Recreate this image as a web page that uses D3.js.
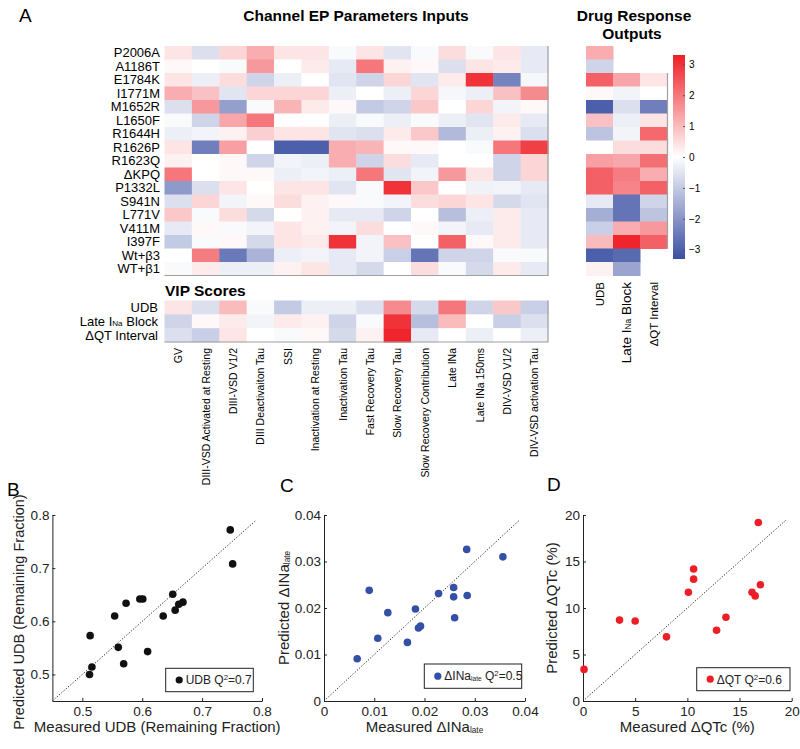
<!DOCTYPE html>
<html>
<head>
<meta charset="utf-8">
<script src="https://cdn.jsdelivr.net/npm/d3@7"></script>
<style>
  body { margin: 0; background: #fff; }
  svg { display: block; font-family: "Liberation Sans", Arial, sans-serif; }
</style>
</head>
<body>
<svg id="fig" width="800" height="749"></svg>
<script>
// ---- data ----
const mutants = ["P2006A", "A1186T", "E1784K", "I1771M", "M1652R", "L1650F", "R1644H", "R1626P",
  "R1623Q", "ΔKPQ", "P1332L", "S941N", "L771V", "V411M", "I397F", "Wt+β3", "WT+β1"];

const params = ["GV", "DIII-VSD Activated at Resting", "DIII-VSD V1/2", "DIII Deactivaiton Tau", "SSI",
  "Inactivation at Resting", "Inactivation Tau", "Fast Recovery Tau", "Slow Recovery Tau",
  "Slow Recovery Contribution", "Late INa", "Late INa 150ms", "DIV-VSD V1/2", "DIV-VSD activation Tau"];

// z-scored channel parameters, one row per mutant
const epValues = [
  [0.4, -0.6, 0.6, 1.2, 0.4, 0.4, -0.1, 0.4, -0.5, -0.1, 0.5, -0.1, 0.4, -0.4],
  [0.1, 0, -0.1, 1.5, 0, 0.3, -0.4, 2.0, 0.2, 0.1, -0.6, 0.4, 0.3, -0.4],
  [0.4, -0.3, 0.5, -0.8, -0.3, 0, -0.5, -0.8, 0.6, -0.5, 0.3, 3.0, -2.3, -0.15],
  [1.2, 0.9, -0.5, 0.6, 0.6, 0.6, -0.3, 0, -0.3, 0.6, -0.15, -0.3, 0.9, 1.7],
  [-0.6, 1.5, -1.8, -0.1, 1.1, 0.3, 0.1, -1.0, -0.8, 0.8, 0, 0.6, -0.2, 0.1],
  [-0.1, -0.8, 1.3, 2.0, 0, 0, -0.3, -0.1, -0.3, -0.1, -0.3, -0.5, 0.3, -0.4],
  [-0.3, -0.2, 0.2, 0.7, 0.4, 0.4, -0.5, -0.6, 0.3, 0.8, -1.3, -0.3, 0.2, -0.6],
  [0.4, -2.4, 1.4, 0, -3.0, -3.0, 1.2, 1.1, 0.1, 0.1, 0, -0.1, 2.0, 2.8],
  [0.2, 0, 0.1, -0.8, -0.2, -0.3, 1.2, -0.8, 0.5, -0.4, 0, 0, -0.8, 0.6],
  [2.0, 0, 0.1, 0.1, -0.3, -0.2, -0.3, 2.0, -0.5, -0.2, 1.5, 0.4, -0.8, 0.6],
  [-1.9, -0.6, 0.4, 0, 0.4, 0.4, -0.5, -0.1, 3.0, 0.8, 0, -0.25, -0.2, -0.4],
  [-0.6, 0.6, -0.2, 0.1, 0.5, 0.2, 0.1, -0.1, -0.2, 0.5, 0.6, 0.4, -0.7, -0.5],
  [0.8, -0.1, 0.5, -0.7, 0, 0.2, -0.4, -0.4, -0.8, 0, -1.2, -0.3, 0.3, -0.4],
  [-0.4, 0.1, -0.1, -0.2, 0.4, 0.2, -0.2, 0.5, 0, 0.1, -0.2, -0.4, 0.3, -0.4],
  [-1.0, -0.1, 0.1, -0.7, 0.4, 0.3, 3.0, -0.2, 0.9, 0, 2.3, 0.1, 0.3, -0.4],
  [0, 1.9, -2.5, -1.4, -0.3, -0.2, -0.4, -0.2, -0.9, -2.6, -0.8, -0.8, -0.1, -0.1],
  [-0.1, 0.3, -0.3, -0.3, 0.2, 0.4, -0.4, -0.7, 0, 0.5, -0.1, -0.7, 0.3, -0.4]
];

const outputs = ["UDB", "Late INa Block", "ΔQT Interval"];
const vipValues = [
  [0.4, -0.6, 1.0, -0.1, -1.0, -0.3, -0.3, -0.6, 1.7, -0.7, 2.0, -0.8, 0.8, -0.9],
  [-0.8, 0.1, 0.3, -0.2, 0.3, 0.2, -0.8, -0.1, 3.0, -1.2, 1.0, 0, -0.9, -0.6],
  [-0.6, -0.9, 0.4, 0, -0.1, 0.1, -0.7, 0.2, 3.2, -0.4, 0, -0.3, 0, -0.3]
];

// drug responses (UDB for all 17, late INa block from E1784K on, dQT from E1784K to I397F)
const udbResp = [1.2, -0.8, 2.3, 0.1, -3.0, 0.9, -1.1, 0, 1.4, 2.3, 2.3, -0.4, -1.5, -0.9, 1.0, -3.0, 0.2];
const lateResp = [1.3, -0.2, -0.6, -0.3, -0.2, 0.5, 1.3, 1.9, 1.8, -2.6, -2.6, 1.2, 3.2, -2.8, -1.7];
const qtResp = [0.4, 0, -2.4, 0.4, 2.2, 0.5, 2.1, 1.2, 2.3, -0.8, -1.1, 1.5, 2.3];
const colorbarTicks = [-3, -2, -1, 0, 1, 2, 3];

// scatter panels: measured vs predicted
const udbMeasured = [0.747, 0.751, 0.651, 0.596, 0.601, 0.573, 0.554, 0.668, 0.661, 0.655, 0.635, 0.513, 0.560, 0.609, 0.516, 0.569, 0.512];
const udbPredicted = [0.772, 0.708, 0.651, 0.642, 0.642, 0.634, 0.610, 0.636, 0.632, 0.621, 0.610, 0.573, 0.551, 0.543, 0.514, 0.520, 0.500];
const inaMeasured = [0.0284, 0.0356, 0.0090, 0.0228, 0.0258, 0.0258, 0.0285, 0.0182, 0.0127, 0.0260, 0.0192, 0.0188, 0.0107, 0.0166, 0.0066];
const inaPredicted = [0.0326, 0.0310, 0.0238, 0.0231, 0.0244, 0.0224, 0.0227, 0.0198, 0.0190, 0.0179, 0.0161, 0.0157, 0.0135, 0.0126, 0.0091];
const qtMeasured = [16.8, 10.6, 10.6, 10.1, 17.0, 16.2, 16.5, 3.5, 5.0, 13.7, 12.8, 8.0, 0.1];
const qtPredicted = [19.2, 14.2, 13.1, 11.7, 12.5, 11.7, 11.3, 8.7, 8.6, 9.0, 7.6, 6.9, 3.4];

const udbTicks = [0.5, 0.6, 0.7, 0.8];
const inaTicks = [0, 0.01, 0.02, 0.03, 0.04];
const qtTicks = [0, 5, 10, 15, 20];

// ---- drawing ----
const svg = d3.select("#fig");
svg.append("rect").attr("width", 800).attr("height", 749).attr("fill", "#fff");

const color = d3.scaleLinear().domain([-3.3, 0, 3.3]).range(["#3a4fa2", "#ffffff", "#ee1d25"]).clamp(true);

// text with optional sub/superscript pieces
function richText(sel, parts) {
  parts.forEach(p => {
    const t = sel.append("tspan").text(p.t);
    if (p.sub) t.attr("font-size", "0.62em");
    if (p.low) t.attr("font-size", "0.55em").attr("baseline-shift", "-15%");
    if (p.sup) t.attr("font-size", "0.65em").attr("baseline-shift", "super");
  });
  return sel;
}

function labelParts(name) {
  if (name.includes("INa Block")) return [{t: "Late I"}, {t: "Na", sub: true}, {t: " Block"}];
  return [{t: name}];
}

// panel letters
const letters = [["A", 19, 22], ["B", 7, 496], ["C", 280, 492], ["D", 547, 491]];
svg.selectAll(".letter").data(letters).join("text")
  .attr("x", d => d[1]).attr("y", d => d[2])
  .attr("font-size", 19).text(d => d[0]);

// titles
svg.append("text").attr("x", 356).attr("y", 21).attr("text-anchor", "middle")
  .attr("font-size", 15.5).attr("font-weight", "bold").text("Channel EP Parameters Inputs");
svg.append("text").attr("x", 634).attr("y", 21).attr("text-anchor", "middle")
  .attr("font-size", 15.5).attr("font-weight", "bold").text("Drug Response");
svg.append("text").attr("x", 632).attr("y", 39).attr("text-anchor", "middle")
  .attr("font-size", 15.5).attr("font-weight", "bold").text("Outputs");
svg.append("text").attr("x", 165).attr("y", 296)
  .attr("font-size", 15.5).attr("font-weight", "bold").text("VIP Scores");

// main heatmap
const x = d3.scaleBand().domain(params).range([164.5, 548]);
const y = d3.scaleBand().domain(mutants).range([46, 275.5]);

const epCells = [];
mutants.forEach((m, i) => params.forEach((p, j) => epCells.push({m, p, v: epValues[i][j]})));
svg.append("g").selectAll("rect").data(epCells).join("rect")
  .attr("x", d => x(d.p)).attr("y", d => y(d.m))
  .attr("width", x.bandwidth() + 0.5).attr("height", y.bandwidth() + 0.5)
  .attr("fill", d => color(d.v));

svg.append("path").attr("d", `M164.5,275.5H548V46`).attr("fill", "none").attr("stroke", "#a0a0a0").attr("stroke-width", 1.2);

svg.append("g").selectAll("text").data(mutants).join("text")
  .attr("x", 160).attr("y", d => y(d) + y.bandwidth() / 2).attr("dy", "0.36em")
  .attr("text-anchor", "end").attr("font-size", 13).text(d => d);

// VIP heatmap
const yV = d3.scaleBand().domain(outputs).range([300.5, 342]);
const vipCells = [];
outputs.forEach((o, i) => params.forEach((p, j) => vipCells.push({o, p, v: vipValues[i][j]})));
svg.append("g").selectAll("rect").data(vipCells).join("rect")
  .attr("x", d => x(d.p)).attr("y", d => yV(d.o))
  .attr("width", x.bandwidth() + 0.5).attr("height", yV.bandwidth() + 0.5)
  .attr("fill", d => color(d.v));
svg.append("path").attr("d", `M164.5,342H548V300.5`).attr("fill", "none").attr("stroke", "#a0a0a0").attr("stroke-width", 1.2);

svg.append("g").selectAll("text").data(outputs).join("text")
  .attr("x", 158).attr("y", d => yV(d) + yV.bandwidth() / 2).attr("dy", "0.36em")
  .attr("text-anchor", "end").attr("font-size", 13)
  .each(function(d) { richText(d3.select(this), labelParts(d)); });

// parameter labels (rotated)
svg.append("g").selectAll("text").data(params).join("text")
  .attr("transform", d => `translate(${x(d) + x.bandwidth() / 2 + 4},348) rotate(-90)`)
  .attr("text-anchor", "end").attr("font-size", 10.5).text(d => d);

// drug response heatmap
const xD = d3.scaleBand().domain(outputs).range([586, 667]);
const drugCells = [];
udbResp.forEach((v, i) => drugCells.push({o: outputs[0], m: mutants[i], v}));
lateResp.forEach((v, i) => drugCells.push({o: outputs[1], m: mutants[i + 2], v}));
qtResp.forEach((v, i) => drugCells.push({o: outputs[2], m: mutants[i + 2], v}));
svg.append("g").selectAll("rect").data(drugCells).join("rect")
  .attr("x", d => xD(d.o)).attr("y", d => y(d.m))
  .attr("width", xD.bandwidth() + 0.5).attr("height", y.bandwidth() + 0.5)
  .attr("fill", d => color(d.v));
svg.append("line").attr("x1", 667.5).attr("x2", 667.5)
  .attr("y1", y(mutants[2])).attr("y2", y(mutants[14]) + y.bandwidth())
  .attr("stroke", "#a0a0a0").attr("stroke-width", 1.2);

svg.append("g").selectAll("text").data(outputs).join("text")
  .attr("transform", (d, i) => `translate(${xD(d) + xD.bandwidth() / 2 + 4.5},282) rotate(-90)`)
  .attr("text-anchor", "end").attr("font-size", (d, i) => i === 1 ? 13.5 : 11.5)
  .each(function(d) { richText(d3.select(this), labelParts(d)); });

// colorbar
const cbY = d3.scaleLinear().domain([-3.3, 3.3]).range([259, 55]);
const grad = svg.append("defs").append("linearGradient").attr("id", "cb")
  .attr("x1", 0).attr("y1", 1).attr("x2", 0).attr("y2", 0);
d3.range(0, 1.0001, 0.05).forEach(t => {
  grad.append("stop").attr("offset", t).attr("stop-color", color(-3.3 + 6.6 * t));
});
svg.append("rect").attr("x", 673).attr("y", 55).attr("width", 12).attr("height", 204).attr("fill", "url(#cb)");
const cbAxis = svg.append("g").attr("transform", "translate(685,0)")
  .call(d3.axisRight(cbY).tickValues(colorbarTicks).tickSizeInner(-2).tickSizeOuter(0).tickPadding(4)
    .tickFormat(d3.format("d")));
cbAxis.select(".domain").remove();
cbAxis.selectAll("line").attr("stroke", "#555");
cbAxis.selectAll("text").attr("font-size", 10).attr("font-family", "Liberation Sans, Arial, sans-serif");

// scatter panels
function scatter(o) {
  const xs = d3.scaleLinear().domain(o.xDom).range(o.xRange);
  const ys = d3.scaleLinear().domain(o.yDom).range([701, 515]);
  const g = svg.append("g");

  const ax = g.append("g").attr("transform", "translate(0,701)")
    .call(d3.axisBottom(xs).tickValues(o.ticks).tickFormat(o.fmt).tickSizeInner(-3).tickSizeOuter(0).tickPadding(5));
  const ay = g.append("g").attr("transform", `translate(${o.xRange[0]},0)`)
    .call(d3.axisLeft(ys).tickValues(o.ticks).tickFormat(o.fmt).tickSizeInner(-3).tickSizeOuter(0).tickPadding(3));
  [ax, ay].forEach(a => {
    a.selectAll("text").attr("font-size", 13.5).attr("font-family", "Liberation Sans, Arial, sans-serif").attr("fill", "#222");
    a.select(".domain").attr("stroke", "#222");
    a.selectAll(".tick line").attr("stroke", "#222");
  });

  g.append("line")
    .attr("x1", xs(o.xDom[0])).attr("y1", ys(o.xDom[0]))
    .attr("x2", xs(o.lineMax)).attr("y2", ys(o.lineMax))
    .attr("stroke", "#222").attr("stroke-width", 1).attr("stroke-dasharray", "1.2,1.8");

  g.selectAll("circle").data(o.measured).join("circle")
    .attr("cx", d => xs(d)).attr("cy", (d, i) => ys(o.predicted[i]))
    .attr("r", 3.8).attr("fill", o.color);

  const lb = o.legend;
  g.append("rect").attr("x", lb[0]).attr("y", lb[1]).attr("width", lb[2]).attr("height", lb[3])
    .attr("fill", "#fff").attr("stroke", "#222").attr("stroke-width", 1);
  g.append("circle").attr("cx", lb[0] + 13.5).attr("cy", lb[1] + lb[3] / 2).attr("r", 3.6).attr("fill", o.color);
  richText(g.append("text").attr("x", lb[0] + 20).attr("y", lb[1] + lb[3] / 2).attr("dy", "0.36em")
    .attr("font-size", 12).attr("fill", "#222"), o.legendText);

  const cx = (o.xRange[0] + o.xRange[1]) / 2;
  richText(g.append("text").attr("x", cx).attr("y", 732).attr("text-anchor", "middle")
    .attr("font-size", 15).attr("fill", "#222"), o.xLabel);
  richText(g.append("text").attr("transform", `translate(${o.yLabelX},${o.yLabelY || 608}) rotate(-90)`)
    .attr("dy", "0.36em").attr("text-anchor", "middle").attr("font-size", o.yLabelSize || 15).attr("fill", "#222"), o.yLabel);
}

scatter({
  xDom: [0.45, 0.8], xRange: [52.4, 262], yDom: [0.45, 0.8], ticks: udbTicks, fmt: d3.format(".1f"),
  measured: udbMeasured, predicted: udbPredicted, color: "#111", lineMax: 0.79,
  legend: [165.7, 668.3, 87.6, 23.4],
  legendText: [{t: "UDB  Q"}, {t: "2", sup: true}, {t: "=0.7"}],
  xLabel: [{t: "Measured UDB (Remaining Fraction)"}],
  yLabel: [{t: "Predicted UDB (Remaining Fraction)"}], yLabelX: 18.5, yLabelY: 612, yLabelSize: 14.5
});

scatter({
  xDom: [0, 0.04], xRange: [324, 525], yDom: [0, 0.04], ticks: inaTicks,
  fmt: d => d === 0 ? "0" : d.toFixed(2),
  measured: inaMeasured, predicted: inaPredicted, color: "#3450a6", lineMax: 0.0388,
  legend: [424.3, 664, 97.4, 24.3],
  legendText: [{t: "ΔINa"}, {t: "late", low: true}, {t: "  Q"}, {t: "2", sup: true}, {t: "=0.5"}],
  xLabel: [{t: "Measured ΔINa"}, {t: "late", low: true}],
  yLabel: [{t: "Predicted ΔINa"}, {t: "late", low: true}], yLabelX: 284
});

scatter({
  xDom: [0, 20], xRange: [583, 791.7], yDom: [0, 20], ticks: qtTicks, fmt: d3.format("d"),
  measured: qtMeasured, predicted: qtPredicted, color: "#ec1f26", lineMax: 19.5,
  legend: [696.7, 667.7, 93.3, 23],
  legendText: [{t: "ΔQT  Q"}, {t: "2", sup: true}, {t: "=0.6"}],
  xLabel: [{t: "Measured ΔQTc (%)"}],
  yLabel: [{t: "Predicted ΔQTc (%)"}], yLabelX: 551.7
});
</script>
</body>
</html>
